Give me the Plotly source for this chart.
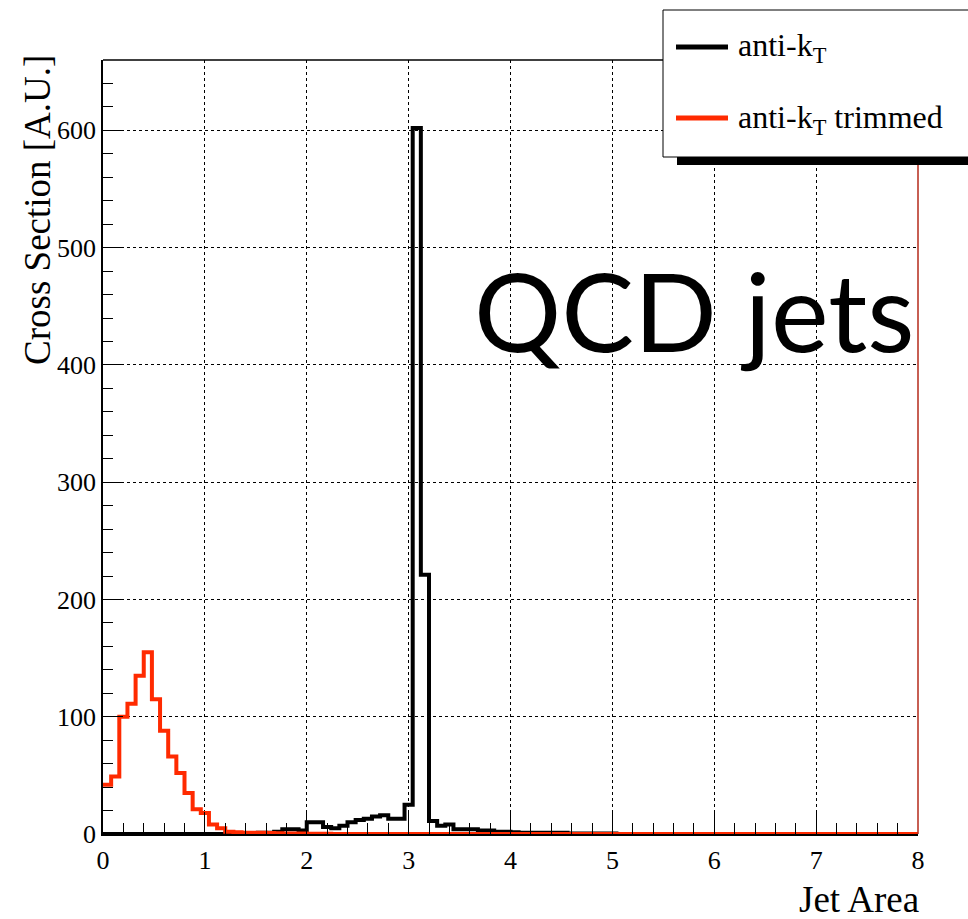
import numpy as np
import plotly.graph_objects as go

# ---- data (100 bins, 0..8, width 0.08) ----
bin_lo, bin_hi, n_bins = 0.0, 8.0, 100
antikt = ([0.0] * 15 +
          [0.3, 0.5, 0.5, 0.8, 1.0,
           1.0, 2.0, 4.0, 4.0, 3.0, 10.0, 10.0, 6.0, 5.0, 7.0,
           10.0, 12.0, 13.0, 15.0, 16.0, 13.0, 13.0, 25.0, 602.0, 221.0,
           11.0, 7.0, 8.0, 4.0, 4.0, 4.0, 3.0, 3.0, 2.0, 2.0,
           1.5, 1.0, 1.0, 1.0, 1.0, 1.0, 1.0, 0.5, 0.5, 0.5,
           0.5, 0.5, 0.5] + [0.0] * 37)
antikt_trimmed = ([42.0, 49.0, 100.0, 111.0, 135.0, 155.0, 115.0, 88.0, 66.0, 52.0,
                   35.0, 21.0, 18.0, 8.0, 5.0, 2.0, 1.5, 1.0, 1.0, 1.0,
                   0.8, 0.6, 0.5, 0.5, 0.4, 0.3, 0.3, 0.2] + [0.0] * 72)
series_names = ["anti-k<sub>T</sub>", "anti-k<sub>T</sub> trimmed"]
x_ticks = [0, 1, 2, 3, 4, 5, 6, 7, 8]
y_ticks = [0, 100, 200, 300, 400, 500, 600]

edges = np.linspace(bin_lo, bin_hi, n_bins + 1)

BLACK = "#000000"
RED = "#ff2a00"
SERIF = "Liberation Serif, Times New Roman, serif"

def step(vals):
    return list(edges), list(vals) + [vals[-1]]

fig = go.Figure()
xb, yb = step(antikt)
fig.add_trace(go.Scatter(x=xb, y=yb, mode="lines", line=dict(shape="hv", color=BLACK, width=4),
                         name=series_names[0], showlegend=False, cliponaxis=True))
xr, yr = step(antikt_trimmed)
fig.add_trace(go.Scatter(x=xr, y=yr, mode="lines", line=dict(shape="hv", color=RED, width=4),
                         name=series_names[1], showlegend=False, cliponaxis=True))

L, R, T, B = 103, 918, 60, 834
W, H = 968, 919
def X(px): return (px - L) / (R - L)
def Y(py): return (B - py) / (B - T)

fig.update_layout(
    width=W, height=H,
    margin=dict(l=L, r=W - R, t=T, b=H - B),
    paper_bgcolor="white", plot_bgcolor="white",
    font=dict(family=SERIF, color="black"),
    xaxis=dict(range=[0, 8], tickvals=x_ticks, ticks="inside", ticklen=22, tickwidth=1, tickcolor="black",
               showline=True, linecolor="black", linewidth=1.5, zeroline=False,
               showgrid=True, gridcolor="black", griddash="dot", gridwidth=1,
               tickfont=dict(family=SERIF, size=26, color="black"), ticklabelstandoff=2,
               minor=dict(dtick=0.2, ticks="inside", ticklen=11, tickcolor="black", showgrid=False)),
    yaxis=dict(range=[0, 660], tickvals=y_ticks, ticks="inside", ticklen=20, tickwidth=1, tickcolor="black",
               showline=True, linecolor="black", linewidth=1.5, zeroline=False,
               showgrid=True, gridcolor="black", griddash="dot", gridwidth=1,
               tickfont=dict(family=SERIF, size=26, color="black"), ticklabelstandoff=0,
               minor=dict(dtick=20, ticks="inside", ticklen=10, tickcolor="black", showgrid=False)),
)

shapes = [
    dict(type="line", xref="paper", yref="paper", x0=0, x1=1, y0=1, y1=1, line=dict(color="black", width=1.5)),
    dict(type="line", xref="paper", yref="paper", x0=1, x1=1, y0=0, y1=1, line=dict(color="#b52a1a", width=1.5)),
    dict(type="rect", xref="paper", yref="paper", x0=X(677), x1=X(980), y0=Y(165), y1=Y(156),
         fillcolor="black", line=dict(width=0)),
    dict(type="rect", xref="paper", yref="paper", x0=X(663), x1=X(990), y0=Y(157), y1=Y(10),
         fillcolor="white", line=dict(color="black", width=1)),
    dict(type="line", xref="paper", yref="paper", x0=X(676), x1=X(728), y0=Y(47), y1=Y(47),
         line=dict(color=BLACK, width=5)),
    dict(type="line", xref="paper", yref="paper", x0=X(676), x1=X(728), y0=Y(118), y1=Y(118),
         line=dict(color=RED, width=5)),
]
fig.update_layout(shapes=shapes)

ann = [
    dict(text=series_names[0], x=X(736), y=Y(48), xref="paper", yref="paper", xanchor="left", yanchor="middle",
         showarrow=False, font=dict(family=SERIF, size=32, color="black")),
    dict(text=series_names[1], x=X(736), y=Y(119), xref="paper", yref="paper", xanchor="left", yanchor="middle",
         showarrow=False, font=dict(family=SERIF, size=32, color="black")),
    dict(text="QCD jets", x=X(916), y=Y(310), xref="paper", yref="paper", xanchor="right", yanchor="middle",
         showarrow=False, font=dict(family="Lato, sans-serif", size=109, color="black")),
    dict(text="Cross Section [A.U.]", x=X(37), y=Y(53), xref="paper", yref="paper", xanchor="center",
         yanchor="top", textangle=-90, showarrow=False, font=dict(family=SERIF, size=37, color="black")),
    dict(text="Jet Area", x=X(921), y=Y(899), xref="paper", yref="paper", xanchor="right", yanchor="middle",
         showarrow=False, font=dict(family=SERIF, size=37, color="black")),
]
fig.update_layout(annotations=ann)

fig.write_html("out.html")
